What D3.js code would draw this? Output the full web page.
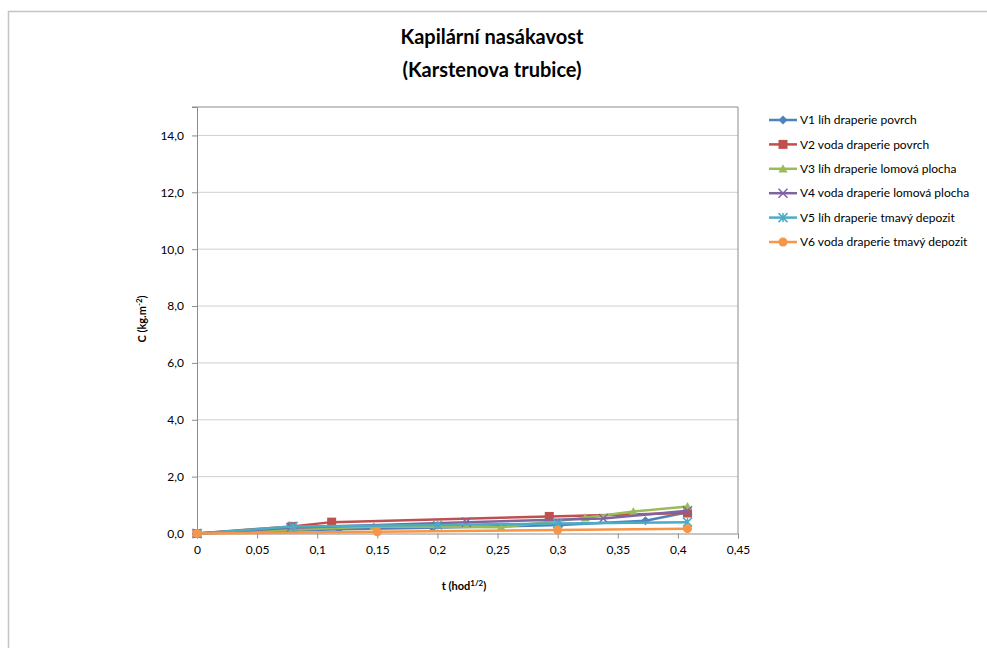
<!DOCTYPE html>
<html>
<head>
<meta charset="utf-8">
<script src="https://cdn.jsdelivr.net/npm/d3@7"></script>
<style>
  body { margin: 0; background: #fff; }
  svg { display: block; font-family: Lato, "Liberation Sans", sans-serif; }
</style>
</head>
<body>
<div class="d3-chart"></div>
<script>
// values
const seriesNames = [
  "V1 líh draperie povrch",
  "V2 voda draperie povrch",
  "V3 líh draperie lomová plocha",
  "V4 voda draperie lomová plocha",
  "V5 líh draperie tmavý depozit",
  "V6 voda draperie tmavý depozit"
];
const v1t = [0, 0.118, 0.196, 0.302, 0.373, 0.408];
const v1c = [0, 0.15, 0.2, 0.3, 0.45, 0.75];
const v2t = [0, 0.079, 0.112, 0.293, 0.408];
const v2c = [0, 0.25, 0.4, 0.6, 0.72];
const v3t = [0, 0.147, 0.253, 0.323, 0.363, 0.408];
const v3c = [0, 0.25, 0.22, 0.55, 0.77, 0.95];
const v4t = [0, 0.078, 0.224, 0.338, 0.408];
const v4c = [0, 0.2, 0.4, 0.53, 0.8];
const v5t = [0, 0.08, 0.2, 0.3, 0.408];
const v5c = [0, 0.25, 0.3, 0.35, 0.4];
const v6t = [0, 0.15, 0.3, 0.408];
const v6c = [0, 0.06, 0.12, 0.17];
const xTicks = [0, 0.05, 0.1, 0.15, 0.2, 0.25, 0.3, 0.35, 0.4, 0.45];
const yTicks = [0, 2, 4, 6, 8, 10, 12, 14];

const colors = ["#4F81BD", "#C0504D", "#9BBB59", "#8064A2", "#4BACC6", "#F79646"];
const shapes = ["diamond", "square", "triangle", "x", "star", "circle"];

const series = [[v1t, v1c], [v2t, v2c], [v3t, v3c], [v4t, v4c], [v5t, v5c], [v6t, v6c]]
  .map(([t, c], i) => ({name: seriesNames[i], color: colors[i], shape: shapes[i],
    values: t.map((d, j) => ({t: d, c: c[j]}))}));

const width = 987, height = 648;
const plot = {left: 197, right: 738, top: 107, bottom: 533.5};

const svg = d3.select(".d3-chart")
  .append("svg")
  .attr("width", width)
  .attr("height", height);

// outer chart border
svg.append("rect")
  .attr("x", 8.5).attr("y", 11.5)
  .attr("width", 1000).attr("height", 660)
  .attr("fill", "none")
  .attr("stroke", "#c4c4c4")
  .attr("stroke-width", 1.5);

const x = d3.scaleLinear().domain([0, 0.45]).range([plot.left, plot.right]);
const y = d3.scaleLinear().domain([0, 15]).range([plot.bottom, plot.top]);
const fmt = d => d3.format(",")(d).replace(".", ",");

// gridlines
svg.append("g")
  .selectAll("line")
  .data(yTicks.filter(d => d > 0))
  .join("line")
  .attr("x1", plot.left).attr("x2", plot.right)
  .attr("y1", d => y(d)).attr("y2", d => y(d))
  .attr("stroke", "#d0d0d0")
  .attr("stroke-width", 1);

// plot border (top and right)
svg.append("path")
  .attr("d", `M${plot.left},${plot.top}H${plot.right}V${plot.bottom}`)
  .attr("fill", "none")
  .attr("stroke", "#8c8c8c")
  .attr("stroke-width", 1);

const xAxis = svg.append("g")
  .attr("transform", `translate(0,${plot.bottom})`)
  .call(d3.axisBottom(x).tickValues(xTicks).tickSize(5).tickPadding(7)
    .tickFormat(d => d === 0 ? "0" : d3.format(".2~f")(d).replace(".", ",")));

const yAxis = svg.append("g")
  .attr("transform", `translate(${plot.left},0)`)
  .call(d3.axisLeft(y).tickValues(yTicks).tickSize(5).tickPadding(8)
    .tickFormat(d => d3.format(".1f")(d).replace(".", ",")));

for (const ax of [xAxis, yAxis]) {
  ax.select(".domain").attr("stroke", "#8c8c8c");
  ax.selectAll(".tick line").attr("stroke", "#8c8c8c");
  ax.selectAll(".tick text")
    .attr("fill", "#000")
    .attr("font-size", 12)
    .attr("font-family", "Lato, sans-serif");
}
// Excel puts its top tick at the axis end
yAxis.append("line")
  .attr("x1", -5).attr("x2", 0)
  .attr("y1", plot.top).attr("y2", plot.top)
  .attr("stroke", "#8c8c8c");

// titles
const title = svg.append("text")
  .attr("text-anchor", "middle")
  .attr("font-weight", "bold")
  .attr("font-size", 20);
title.append("tspan").attr("x", 492).attr("y", 44).text("Kapilární nasákavost");
title.append("tspan").attr("x", 492).attr("y", 77).text("(Karstenova trubice)");

const xLabel = svg.append("text")
  .attr("x", 464).attr("y", 590)
  .attr("text-anchor", "middle")
  .attr("font-weight", "bold")
  .attr("font-size", 11)
  .text("t (hod");
xLabel.append("tspan").attr("dy", -4).attr("font-size", 8).text("1/2");
xLabel.append("tspan").attr("dy", 4).text(")");

const yLabel = svg.append("text")
  .attr("transform", `translate(146,319) rotate(-90)`)
  .attr("text-anchor", "middle")
  .attr("font-weight", "bold")
  .attr("font-size", 11)
  .text("C (kg.m");
yLabel.append("tspan").attr("dy", -4).attr("font-size", 8).text("-2");
yLabel.append("tspan").attr("dy", 4).text(")");

// markers
function drawMarker(sel, shape, color) {
  const s = 4.5;
  if (shape === "circle") {
    sel.append("circle").attr("r", s).attr("fill", color);
  } else if (shape === "square") {
    sel.append("rect").attr("x", -s).attr("y", -s).attr("width", 2 * s).attr("height", 2 * s).attr("fill", color);
  } else if (shape === "diamond") {
    sel.append("path").attr("d", `M0,${-s}L${s},0L0,${s}L${-s},0Z`).attr("fill", color);
  } else if (shape === "triangle") {
    sel.append("path").attr("d", `M0,${-s}L${s},${s * 0.8}L${-s},${s * 0.8}Z`).attr("fill", color);
  } else if (shape === "x") {
    sel.append("path").attr("d", `M${-s},${-s}L${s},${s}M${-s},${s}L${s},${-s}`)
      .attr("stroke", color).attr("stroke-width", 1.5);
  } else if (shape === "star") {
    sel.append("path").attr("d", `M${-s},${-s}L${s},${s}M${-s},${s}L${s},${-s}M0,${-s}V${s}`)
      .attr("stroke", color).attr("stroke-width", 1.5);
  }
}

const line = d3.line().x(d => x(d.t)).y(d => y(d.c));

const serie = svg.append("g")
  .selectAll("g")
  .data(series)
  .join("g");

serie.append("path")
  .attr("d", d => line(d.values))
  .attr("fill", "none")
  .attr("stroke", d => d.color)
  .attr("stroke-width", 2.5)
  .attr("stroke-linejoin", "round");

serie.each(function(d) {
  d3.select(this).selectAll("g.pt")
    .data(d.values)
    .join("g")
    .attr("class", "pt")
    .attr("transform", p => `translate(${x(p.t)},${y(p.c)})`)
    .each(function() { drawMarker(d3.select(this), d.shape, d.color); });
});

// legend
const legend = svg.append("g")
  .selectAll("g")
  .data(series)
  .join("g")
  .attr("transform", (d, i) => `translate(769,${120 + i * 24.4})`);

legend.append("line")
  .attr("x1", 0).attr("x2", 28)
  .attr("stroke", d => d.color)
  .attr("stroke-width", 2.5);

legend.append("g")
  .attr("transform", "translate(14,0)")
  .each(function(d) { drawMarker(d3.select(this), d.shape, d.color); });

legend.append("text")
  .attr("x", 31)
  .attr("dy", "0.35em")
  .attr("font-size", 12)
  .text(d => d.name);
</script>
</body>
</html>
